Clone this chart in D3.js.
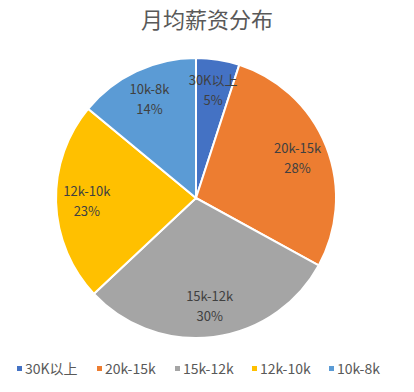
<!DOCTYPE html>
<html><head><meta charset="utf-8">
<script src="https://cdn.jsdelivr.net/npm/d3@7"></script>
<style>body{margin:0;background:#fff}svg{display:block}</style>
</head><body>
<script>
const categories = ["30K以上", "20k-15k", "15k-12k", "12k-10k", "10k-8k"];
const values = [5, 28, 30, 23, 14];
const colors = ["#4472C4", "#ED7D31", "#A5A5A5", "#FFC000", "#5B9BD5"];
const title = "月均薪资分布";

const W = 414, H = 392;
const svg = d3.select("body").append("svg").attr("width", W).attr("height", H);
const font = "'Noto Sans CJK SC', 'Noto Sans', sans-serif";

svg.append("text").attr("x", 207).attr("y", 28).attr("text-anchor", "middle")
  .attr("font-family", font).attr("font-size", 22).attr("fill", "#595959").text(title);

const cx = 196, cy = 198, R = 140;
const g = svg.append("g").attr("transform", `translate(${cx},${cy})`);
const pie = d3.pie().sort(null).value(d => d);
const arcs = pie(values);
const arc = d3.arc().innerRadius(0).outerRadius(R);
const color = d3.scaleOrdinal().domain(categories).range(colors);

g.selectAll("path").data(arcs).enter().append("path")
  .attr("d", arc).attr("fill", (d, i) => color(categories[i]))
  .attr("stroke", "#fff").attr("stroke-width", 2);

const labelArc = d3.arc().innerRadius(R * 0.78).outerRadius(R * 0.78);
const lab = g.selectAll("g.lab").data(arcs).enter().append("g")
  .attr("transform", d => `translate(${labelArc.centroid(d)})`);
lab.append("text").attr("text-anchor", "middle").attr("y", -5)
  .attr("font-family", font).attr("font-size", 13).attr("fill", "#404040")
  .text((d, i) => categories[i]);
lab.append("text").attr("text-anchor", "middle").attr("y", 15)
  .attr("font-family", font).attr("font-size", 13).attr("fill", "#404040")
  .text(d => d.data + "%");

const legX = [17, 97, 175, 252, 329];
const leg = svg.append("g").selectAll("g").data(categories).enter().append("g")
  .attr("transform", (d, i) => `translate(${legX[i]},369)`);
leg.append("rect").attr("x", 0).attr("y", -3).attr("width", 5).attr("height", 5)
  .attr("fill", d => color(d));
leg.append("text").attr("x", 8).attr("y", 5).attr("font-family", font)
  .attr("font-size", 14).attr("fill", "#595959").text(d => d);
</script>
</body></html>
